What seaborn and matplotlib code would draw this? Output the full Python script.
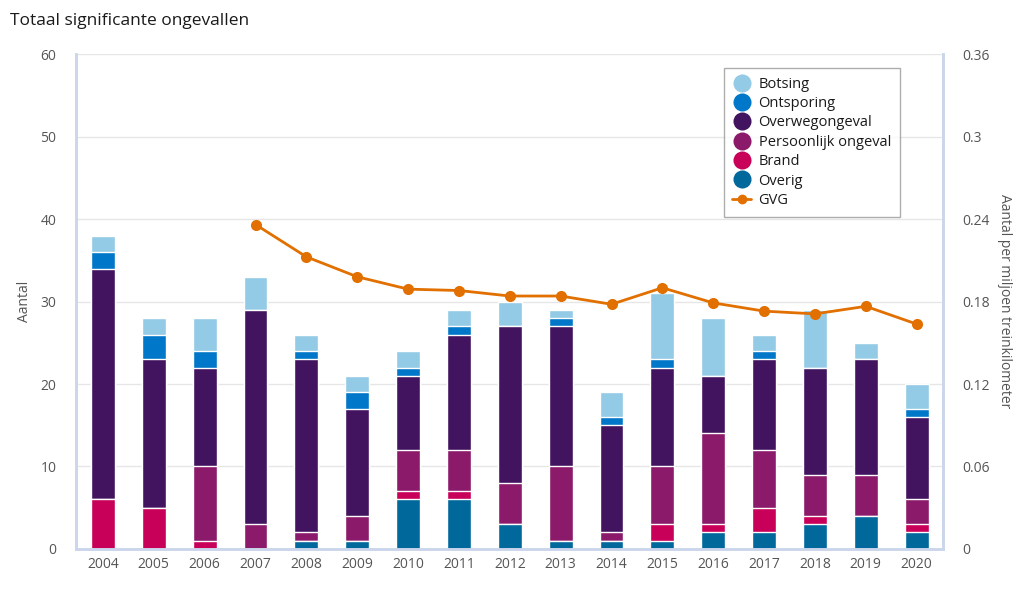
import numpy as np
import pandas as pd
import seaborn as sns
import matplotlib.pyplot as plt
from matplotlib.lines import Line2D

years = ['2004', '2005', '2006', '2007', '2008', '2009', '2010', '2011', '2012',
         '2013', '2014', '2015', '2016', '2017', '2018', '2019', '2020']

# stacked from bottom to top
overig = [0, 0, 0, 0, 1, 1, 6, 6, 3, 1, 1, 1, 2, 2, 3, 4, 2]
brand = [6, 5, 1, 0, 0, 0, 1, 1, 0, 0, 0, 2, 1, 3, 1, 0, 1]
persoonlijk = [0, 0, 9, 3, 1, 3, 5, 5, 5, 9, 1, 7, 11, 7, 5, 5, 3]
overweg = [28, 18, 12, 26, 21, 13, 9, 14, 19, 17, 13, 12, 7, 11, 13, 14, 10]
ontsporing = [2, 3, 2, 0, 1, 2, 1, 1, 0, 1, 1, 1, 0, 1, 0, 0, 1]
botsing = [2, 2, 4, 4, 2, 2, 2, 2, 3, 1, 3, 8, 7, 2, 7, 2, 3]

gvg = [np.nan, np.nan, np.nan, 0.236, 0.2125, 0.198, 0.189, 0.188, 0.184,
       0.184, 0.178, 0.190, 0.179, 0.173, 0.171, 0.1765, 0.1636]

series = [
    ('Overig', overig, '#01689b'),
    ('Brand', brand, '#c8005a'),
    ('Persoonlijk ongeval', persoonlijk, '#8b1a6b'),
    ('Overwegongeval', overweg, '#42145f'),
    ('Ontsporing', ontsporing, '#0077c8'),
    ('Botsing', botsing, '#93cae6'),
]

sns.set_theme(style='white')
plt.rcParams['font.family'] = ['Open Sans', 'DejaVu Sans']

fig, ax = plt.subplots(figsize=(10.24, 5.94), dpi=100)
fig.subplots_adjust(left=0.0742, right=0.921, bottom=0.0758, top=0.909)

# cumulative totals, drawn from the top series down so the lower ones overlap
df = pd.DataFrame({name: vals for name, vals, _ in series}, index=years)
cum = df.cumsum(axis=1)
for name, _, color in reversed(series):
    sns.barplot(x=years, y=cum[name].values, color=color, width=0.47,
                edgecolor='white', linewidth=1, saturation=1, ax=ax)

ax.set_xlim(-0.53, 16.52)
ax.set_ylim(0, 60)
ax.set_yticks(range(0, 61, 10))
ax.yaxis.grid(True, color='#e6e6e6', linewidth=1)
ax.set_axisbelow(True)
ax.tick_params(axis='both', length=0, labelsize=10, colors='#555555')
ax.tick_params(axis='y', pad=14)
ax.tick_params(axis='x', pad=6)
ax.set_ylabel('Aantal', fontsize=10, color='#555555', labelpad=6)

spine_color = '#cbd5ec'
for side in ['left', 'bottom', 'right']:
    ax.spines[side].set_color(spine_color)
    ax.spines[side].set_linewidth(1.8)
ax.spines['top'].set_visible(False)

ax2 = ax.twinx()
x_pos = np.arange(len(years))
sns.lineplot(x=x_pos, y=gvg, color='#e17000', marker='o', markersize=8,
             markeredgewidth=0, linewidth=2, ax=ax2)
ax2.set_ylim(0, 0.36)
ax2.set_yticks([0, 0.06, 0.12, 0.18, 0.24, 0.3, 0.36],
               ['0', '0.06', '0.12', '0.18', '0.24', '0.3', '0.36'])
ax2.tick_params(axis='y', length=0, labelsize=10, colors='#555555', pad=14)
ax2.set_ylabel('Aantal per miljoen treinkilometer', fontsize=10, color='#555555',
               rotation=270, labelpad=16)
for side in ['left', 'bottom', 'right']:
    ax2.spines[side].set_color(spine_color)
    ax2.spines[side].set_linewidth(1.8)
ax2.spines['top'].set_visible(False)
ax2.grid(False)

handles = [Line2D([], [], linestyle='none', marker='o', markersize=13,
                  color=color, markeredgewidth=0) for _, _, color in reversed(series)]
labels = [name for name, _, _ in reversed(series)]
handles.append(Line2D([], [], color='#e17000', marker='o', markersize=6, linewidth=2))
labels.append('GVG')
leg = ax2.legend(handles, labels, loc='upper right', bbox_to_anchor=(0.950, 0.972),
                 borderaxespad=0, fontsize=10.5, frameon=True, fancybox=False,
                 handlelength=1.3, handletextpad=0.5, labelspacing=0.3,
                 borderpad=0.6)
leg.get_frame().set_edgecolor('#999999')
leg.get_frame().set_linewidth(1)
for t in leg.get_texts():
    t.set_color('#1a1a1a')
    t.set_fontweight('medium')

fig.text(0.01, 0.965, 'Totaal significante ongevallen', fontsize=12.5,
         color='#1a1a1a', ha='left', va='center')

fig.savefig('out.png', dpi=100)
